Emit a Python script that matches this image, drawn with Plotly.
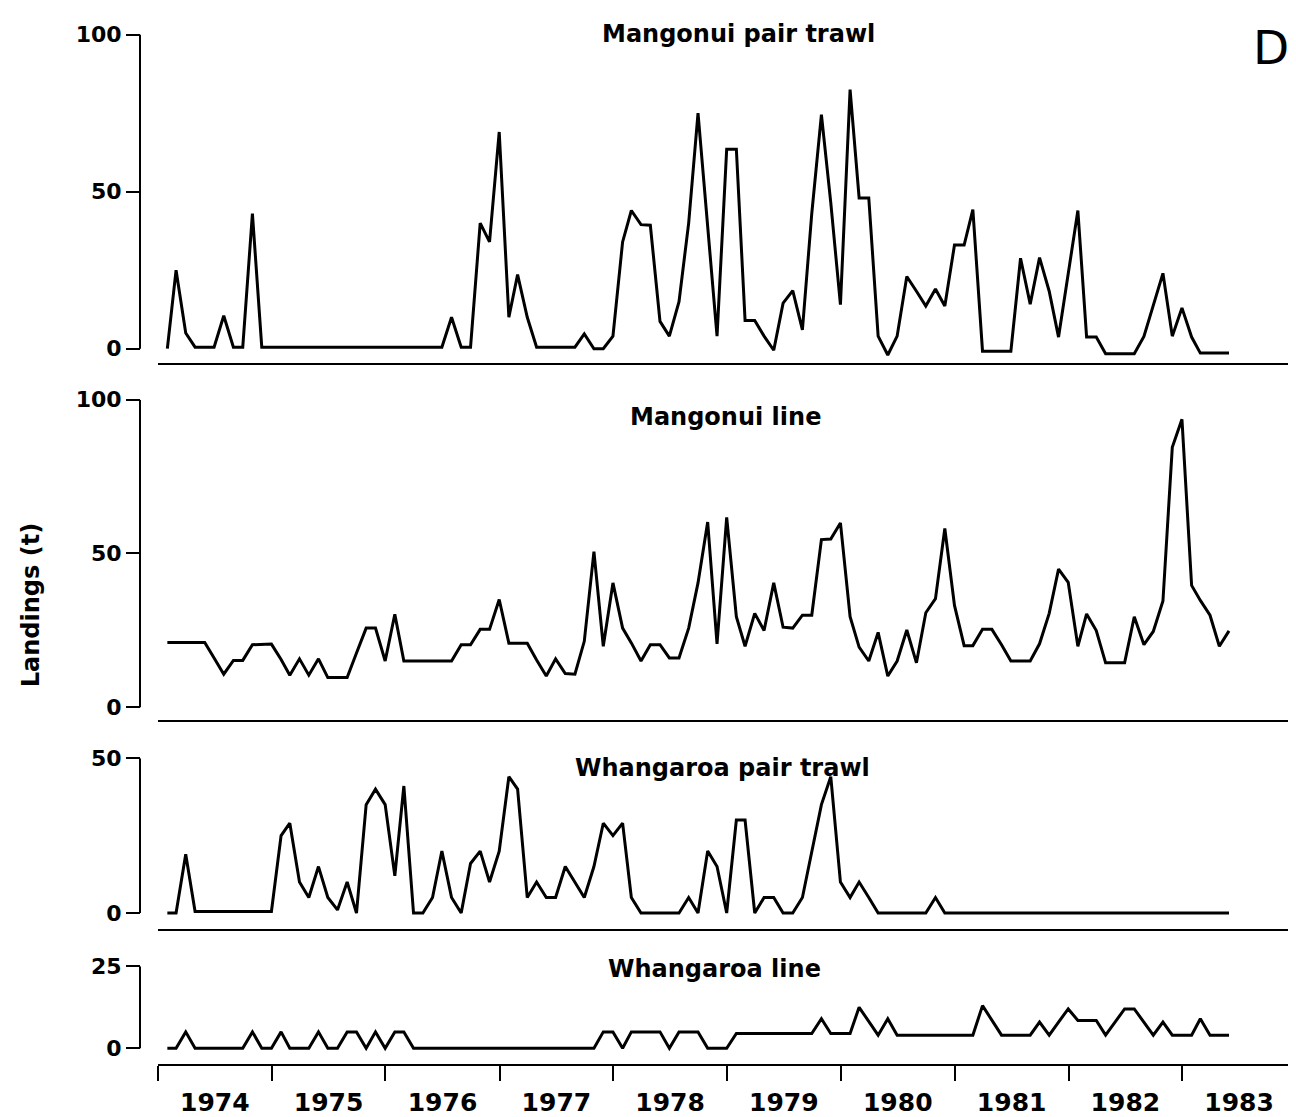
import calendar
import plotly.graph_objects as go

# ---------------- data ----------------
N_MONTHS = 113
start_year = 1974
months = []
for i in range(N_MONTHS):
    y = start_year + i // 12
    m = i % 12 + 1
    d = calendar.monthrange(y, m)[1]
    months.append(f"{y}-{m:02d}-{d:02d}")

years = ["1974", "1975", "1976", "1977", "1978", "1979", "1980", "1981", "1982", "1983"]

mangonui_pair_trawl = [
    0, 25, 5, 0.5, 0.5, 0.5, 10.5, 0.5, 0.5, 43,
    0.5, 0.5, 0.5, 0.5, 0.5, 0.5, 0.5, 0.5, 0.5, 0.5,
    0.5, 0.5, 0.5, 0.5, 0.5, 0.5, 0.5, 0.5, 0.5, 0.5,
    10, 0.5, 0.5, 40, 34, 69, 10, 23.6, 10, 0.5,
    0.5, 0.5, 0.5, 0.5, 4.7, 0, 0, 4, 34, 44,
    39.5, 39.3, 8.7, 4, 15, 40, 75, 40, 4, 63.5,
    63.5, 9, 9, 4, -0.5, 14.5, 18.5, 6, 43, 74.5,
    46.5, 14, 82.5, 48, 48, 4, -2, 4, 23, 18.3,
    13.6, 19, 13.6, 33, 33, 44.3, -0.8, -0.8, -0.8, -0.8,
    28.8, 14.2, 29, 18.3, 3.7, 24.6, 44, 3.7, 3.7, -1.6,
    -1.6, -1.6, -1.6, 3.9, 13.6, 24, 4, 13, 3.7, -1.4,
    -1.4, -1.4, -1.4,
]

mangonui_line = [
    21, 21, 21, 21, 21, 16, 10.7, 15.2, 15.2, 20.3,
    20.4, 20.5, 15.5, 10.4, 15.7, 10.4, 15.7, 9.6, 9.6, 9.6,
    17.6, 25.7, 25.7, 15, 30.2, 15, 15, 15, 15, 15,
    15, 20.3, 20.3, 25.3, 25.3, 35, 20.8, 20.8, 20.8, 15.3,
    10.1, 15.7, 10.9, 10.7, 21.4, 50.6, 19.8, 40.4, 25.7, 20.9,
    15, 20.3, 20.3, 16, 16, 25.7, 40.4, 60.2, 20.6, 61.7,
    29.4, 19.8, 30.5, 24.9, 40.4, 26, 25.7, 29.9, 29.9, 54.5,
    54.7, 59.9, 29.4, 19.5, 15, 24.3, 10.1, 15, 25.1, 14.4,
    30.7, 35.3, 58.1, 33.1, 20, 20, 25.3, 25.3, 20.3, 15,
    15, 15, 20.6, 30.5, 44.9, 40.6, 19.8, 30.3, 24.9, 14.4,
    14.4, 14.4, 29.4, 20.3, 24.6, 34.5, 84.5, 93.6, 39.6, 34.7,
    29.9, 19.8, 24.8,
]

whangaroa_pair_trawl = [
    0, 0, 19, 0.5, 0.5, 0.5, 0.5, 0.5, 0.5, 0.5,
    0.5, 0.5, 25, 29, 10, 5, 15, 5, 1, 10,
    0, 35, 40, 35, 12, 41, 0, 0, 5, 20,
    5, 0, 16, 20, 10, 20, 44, 40, 5, 10,
    5, 5, 15, 10, 5, 15, 29, 25, 29, 5,
    0, 0, 0, 0, 0, 5, 0, 20, 15, 0,
    30, 30, 0, 5, 5, 0, 0, 5, 20, 35,
    44, 10, 5, 10, 5, 0, 0, 0, 0, 0,
    0, 5, 0, 0, 0, 0, 0, 0, 0, 0,
    0, 0, 0, 0, 0, 0, 0, 0, 0, 0,
    0, 0, 0, 0, 0, 0, 0, 0, 0, 0,
    0, 0, 0,
]

whangaroa_line = [
    0, 0, 5, 0, 0, 0, 0, 0, 0, 5,
    0, 0, 5, 0, 0, 0, 5, 0, 0, 5,
    5, 0, 5, 0, 5, 5, 0, 0, 0, 0,
    0, 0, 0, 0, 0, 0, 0, 0, 0, 0,
    0, 0, 0, 0, 0, 0, 5, 5, 0, 5,
    5, 5, 5, 0, 5, 5, 5, 0, 0, 0,
    4.5, 4.5, 4.5, 4.5, 4.5, 4.5, 4.5, 4.5, 4.5, 9,
    4.5, 4.5, 4.5, 12.5, 8, 4, 9, 4, 4, 4,
    4, 4, 4, 4, 4, 4, 13, 8.5, 4, 4,
    4, 4, 8, 4, 8, 12, 8.5, 8.5, 8.5, 4,
    8, 12, 12, 8, 4, 8, 4, 4, 4, 9,
    4, 4, 4,
]

panel_titles = ["Mangonui pair trawl", "Mangonui line", "Whangaroa pair trawl", "Whangaroa line"]
series = [mangonui_pair_trawl, mangonui_line, whangaroa_pair_trawl, whangaroa_line]
y_ranges = [[-4.7, 100], [-4.3, 100], [-5.1, 50], [-4.8, 25]]
y_ticks = [[0, 50, 100], [0, 50, 100], [0, 50], [0, 25]]

# ---------------- layout geometry ----------------
W, H = 1296, 1117
ML, MR, MT, MB = 132, 8, 20, 47
PW = W - ML - MR
PH = H - MT - MB


def px_x(px):
    return (px - ML) / PW


def px_y(py):
    return (H - MB - py) / PH


domains = [
    [px_y(360), px_y(26.7)],
    [px_y(721.7), px_y(396.7)],
    [px_y(933), px_y(760)],
    [px_y(1070), px_y(971)],
]
x_domain = [px_x(150), 1.0]

FONT = "DejaVu Sans"
fig = go.Figure()

for i, vals in enumerate(series):
    k = "" if i == 0 else str(i + 1)
    fig.add_trace(go.Scatter(
        x=months, y=vals, mode="lines",
        line=dict(color="black", width=3),
        xaxis="x" + k, yaxis="y" + k, showlegend=False, hoverinfo="skip",
    ))

layout = dict(
    width=W, height=H,
    margin=dict(l=ML, r=MR, t=MT, b=MB),
    paper_bgcolor="white", plot_bgcolor="white",
    showlegend=False,
)

for i in range(4):
    k = "" if i == 0 else str(i + 1)
    bottom = i == 3
    xa = dict(
        domain=x_domain, anchor="y" + k, type="date",
        range=["1974-01-01", "1984-01-01"],
        showline=True, linecolor="black", linewidth=2,
        showgrid=False, zeroline=False,
        ticks="outside" if bottom else "",
        ticklen=15, tickwidth=2, tickcolor="black",
        dtick="M12", tick0="1974-01-01", tickformat="%Y",
        ticklabelmode="period",
        showticklabels=bottom,
        tickfont=dict(family=FONT, size=25, color="black", weight="bold"),
    )
    if i != 3:
        xa["matches"] = "x4"
    layout["xaxis" + k] = xa
    layout["yaxis" + k] = dict(
        domain=domains[i], anchor="free", position=0,
        range=y_ranges[i], tickmode="array", tickvals=y_ticks[i],
        ticks="outside", ticklen=14, tickwidth=2, tickcolor="black",
        showline=False, showgrid=False, zeroline=False,
        tickfont=dict(family=FONT, size=22, color="black", weight="bold"),
    )

fig.update_layout(**layout)

# y-axis spines from 0 to top tick
for i in range(4):
    k = "" if i == 0 else str(i + 1)
    fig.add_shape(type="line", xref="paper", yref="y" + k,
                  x0=0, x1=0, y0=0, y1=y_ticks[i][-1],
                  line=dict(color="black", width=2))

title_pos = [(730, 26), (717, 414), (714, 770), (706, 974)]
for t, (px, py) in zip(panel_titles, title_pos):
    fig.add_annotation(text=t, xref="paper", yref="paper",
                       x=px_x(px), y=px_y(py), showarrow=False,
                       xanchor="center", yanchor="middle",
                       font=dict(family=FONT, size=24, color="black", weight="bold"))

fig.add_annotation(text="D", xref="paper", yref="paper",
                   x=px_x(1263), y=px_y(40), showarrow=False,
                   xanchor="center", yanchor="middle",
                   font=dict(family="DejaVu Sans", size=47, color="black"))

fig.add_annotation(text="Landings (t)", xref="paper", yref="paper",
                   x=px_x(23), y=px_y(605), showarrow=False, textangle=-90,
                   xanchor="center", yanchor="middle",
                   font=dict(family=FONT, size=24, color="black", weight="bold"))

fig.write_html("out.html")
